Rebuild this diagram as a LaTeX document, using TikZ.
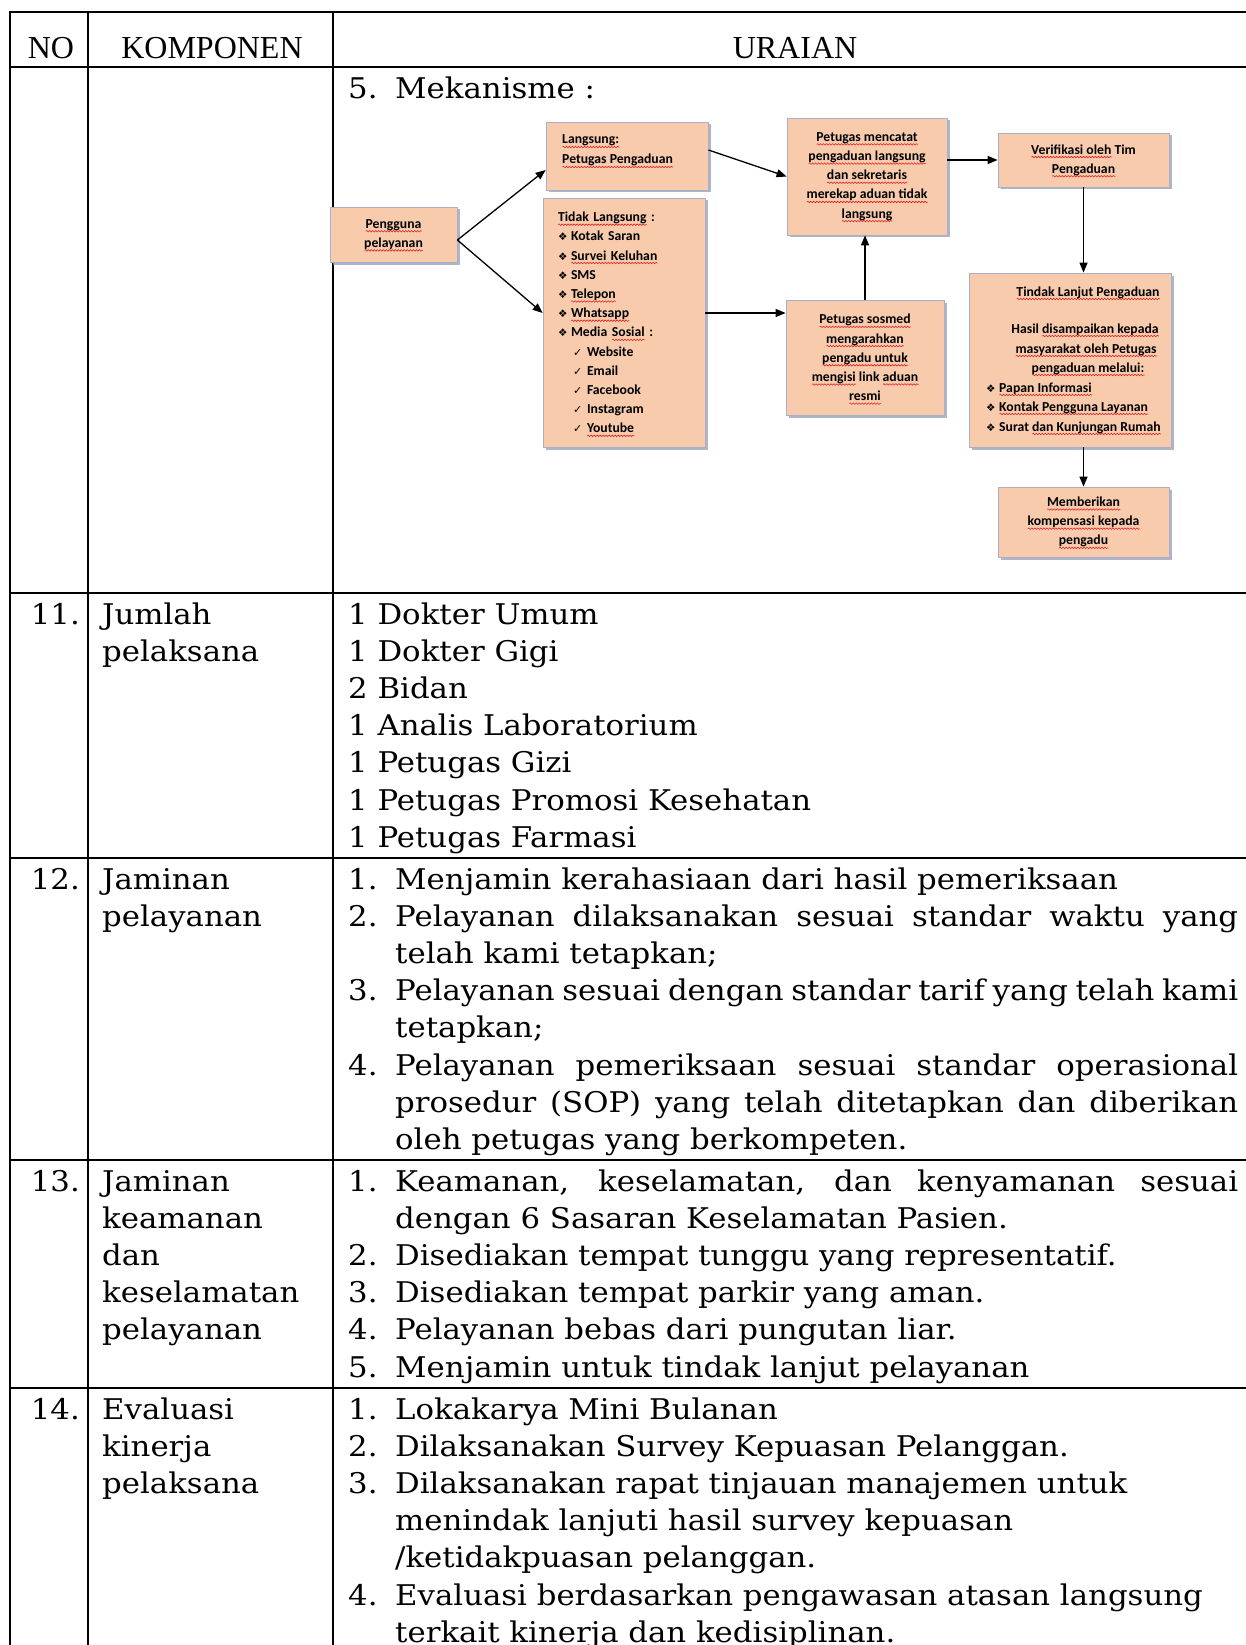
\documentclass[tikz,border=0pt]{standalone}
\usepackage{fontspec}
\usetikzlibrary{arrows.meta,shadows,decorations.pathmorphing}
\newfontfamily\bodyfont[FakeStretch=1.08]{DejaVu Serif}
\newfontfamily\headfont{Liberation Serif}
\newfontfamily\boxfont{Carlito}
\newfontfamily\symfont{DejaVu Sans}
\definecolor{peach}{RGB}{248,203,173}
\definecolor{boxline}{RGB}{168,175,198}
\definecolor{shadowc}{RGB}{140,150,178}
\definecolor{wavered}{RGB}{225,30,30}
\newsavebox\sqbox
\newlength\sqw
\newcommand\sq[1]{\sbox\sqbox{#1}\setlength\sqw{\wd\sqbox}\rlap{\smash{\tikz[x=1pt,y=1pt,baseline=0pt]\draw[wavered,line width=0.55pt,decorate,decoration={snake,amplitude=0.75pt,segment length=3pt}] (0pt,-3pt) -- (\sqw,-3pt);}}\usebox\sqbox}
\newcommand\bul[1]{\makebox[#1][l]{\symfont\fontsize{10.5}{10.5}\selectfont ❖}}
\newcommand\chk{\hspace*{15pt}\makebox[14pt][l]{\symfont\fontsize{11}{11}\selectfont ✓}}
\newcommand\J[1]{\makebox[843pt][s]{#1}}
\begin{document}
\begin{tikzpicture}[x=1pt,y=-1pt,
  grid/.style={line width=2.7pt},
  bt/.style={font=\bodyfont\fontsize{28.5}{37.2}\selectfont, inner sep=0pt, anchor=base west},
  nt/.style={bt, anchor=base east},
  ht/.style={font=\headfont\fontsize{32}{38}\selectfont, inner sep=0pt, anchor=base},
  fbox/.style={rectangle, fill=peach, draw=boxline, line width=0.8pt, inner sep=0pt,
    drop shadow={shadow xshift=2.5pt, shadow yshift=-2.5pt, fill=shadowc, opacity=0.7},
    font=\boxfont\bfseries\fontsize{13.7}{19.2}\selectfont, align=center},
  bx/.style={font=\boxfont\bfseries\fontsize{13.7}{19.2}\selectfont, inner sep=0pt},
  arr/.style={-{Triangle[length=10pt,width=8pt]}, line width=1.3pt}]
\useasboundingbox (0,0) rectangle (1246,1645);
\fill[white] (0,0) rectangle (1246,1645);

% table grid
\draw[grid] (8.65,12) -- (1250,12);
\foreach \yy in {67,593,858,1160,1388} \draw[grid] (10,\yy) -- (1250,\yy);
\foreach \xx in {10,88,333} \draw[grid] (\xx,12) -- (\xx,1650);

% header
\node[ht] (hno) at (51,59) {NO};
\node[ht] (hkomp) at (212,59) {KOMPONEN};
\node[ht] (hur) at (795,59) {URAIAN};

% row 10
\node[bt] (m5n) at (348,99) {5.};
\node[bt] (m5t) at (395,99) {Mekanisme :};

% flowchart boxes
\node[fbox, minimum width=127pt, minimum height=55pt] (peng) at (393.5,234.5) {\sq{Pengguna}\\\sq{pelayanan}};
\node[fbox, minimum width=162pt, minimum height=68pt] (lang) at (627,156) {};
\node[bx, anchor=base west] (lang1) at (562,144) {\sq{Langsung:}};
\node[bx, anchor=base west] (lang2) at (562,164) {\sq{Petugas Pengaduan}};
\node[fbox, minimum width=162pt, minimum height=249pt, text width=132pt, inner xsep=15pt, align=left] (tidak) at (624,322.5)
  {\sq{Tidak Langsung} :\\\bul{13pt}Kotak Saran\\\bul{13pt}\sq{Survei Keluhan}\\\bul{13pt}SMS\\\bul{13pt}\sq{Telepon}\\\bul{13pt}\sq{Whatsapp}\\\bul{13pt}Media \sq{Sosial} :\\\chk Website\\\chk Email\\\chk Facebook\\\chk Instagram\\\chk \sq{Youtube}};
\node[fbox, minimum width=160pt, minimum height=117pt] (menc) at (867,176.5)
  {\sq{Petugas mencatat}\\\sq{pengaduan langsung}\\\sq{dan sekretaris}\\\sq{merekap aduan tidak}\\\sq{langsung}};
\node[fbox, minimum width=171pt, minimum height=54pt] (verif) at (1083.5,160) {\sq{Verifikasi oleh} Tim\\\sq{Pengaduan}};
\node[fbox, minimum width=158pt, minimum height=115pt] (sosmed) at (865,357.5)
  {\sq{Petugas sosmed}\\\sq{mengarahkan}\\\sq{pengadu untuk}\\\sq{mengisi} link \sq{aduan}\\\sq{resmi}};
\node[fbox, minimum width=202pt, minimum height=174pt] (tindak) at (1070,360) {};
\node[bx, anchor=base] (tl1) at (1088,296) {\sq{Tindak Lanjut Pengaduan}};
\node[bx, anchor=base] (tl2) at (1085,333) {Hasil \sq{disampaikan kepada}};
\node[bx, anchor=base] (tl3) at (1086,353) {\sq{masyarakat oleh Petugas}};
\node[bx, anchor=base] (tl4) at (1088,372) {\sq{pengaduan melalui:}};
\node[bx, anchor=base west] (tl5) at (986,392) {\bul{13pt}\sq{Papan Informasi}};
\node[bx, anchor=base west] (tl6) at (986,411) {\bul{13pt}\sq{Kontak Pengguna Layanan}};
\node[bx, anchor=base west] (tl7) at (986,431) {\bul{13pt}Surat \sq{dan Kunjungan Rumah}};
\node[fbox, minimum width=171pt, minimum height=70pt] (memb) at (1083.5,522) {\sq{Memberikan}\\\sq{kompensasi kepada}\\\sq{pengadu}};

% connectors
\draw[arr] ([yshift=-5.5pt]peng.east) -- ([yshift=-14pt]lang.west);
\draw[arr] ([yshift=-5.5pt]peng.east) -- ([yshift=9.5pt]tidak.west);
\draw[arr] ([yshift=6pt]lang.east) -- (menc.west);
\draw[arr] (menc.east |- verif.west) -- (verif.west);
\draw[arr] (verif.south) -- (verif.south |- tindak.north);
\draw[arr] (memb.north |- tindak.south) -- (memb.north);
\draw[arr] ([yshift=9.5pt]tidak.east) -- ([yshift=9.5pt]tidak.east -| sosmed.west);
\draw[arr] (sosmed.north) -- (sosmed.north |- menc.south);

% row 11
\node[nt] (n11) at (80,624) {11.};
\node[bt] (k11a) at (102,624) {Jumlah};
\node[bt] (k11b) at (102,661.2) {pelaksana};
\node[bt] (u11a) at (348,624) {1 Dokter Umum};
\node[bt] (u11b) at (348,661.2) {1 Dokter Gigi};
\node[bt] (u11c) at (348,698.4) {2 Bidan};
\node[bt] (u11d) at (348,735.6) {1 Analis Laboratorium};
\node[bt] (u11e) at (348,772.8) {1 Petugas Gizi};
\node[bt] (u11f) at (348,810) {1 Petugas Promosi Kesehatan};
\node[bt] (u11g) at (348,847.2) {1 Petugas Farmasi};

% row 12
\node[nt] (n12) at (80,889) {12.};
\node[bt] (k12a) at (102,889) {Jaminan};
\node[bt] (k12b) at (102,926.2) {pelayanan};
\node[bt] (u12n1) at (348,889) {1.};
\node[bt] (u12a) at (395,889) {Menjamin kerahasiaan dari hasil pemeriksaan};
\node[bt] (u12n2) at (348,926.2) {2.};
\node[bt] (u12b) at (395,926.2) {\J{Pelayanan dilaksanakan sesuai standar waktu yang}};
\node[bt] (u12c) at (395,963.4) {telah kami tetapkan;};
\node[bt] (u12n3) at (348,1000.6) {3.};
\node[bt] (u12d) at (395,1000.6) {\J{Pelayanan sesuai dengan standar tarif yang telah kami}};
\node[bt] (u12e) at (395,1037.8) {tetapkan;};
\node[bt] (u12n4) at (348,1075) {4.};
\node[bt] (u12f) at (395,1075) {\J{Pelayanan pemeriksaan sesuai standar operasional}};
\node[bt] (u12g) at (395,1112.2) {\J{prosedur (SOP) yang telah ditetapkan dan diberikan}};
\node[bt] (u12h) at (395,1149.4) {oleh petugas yang berkompeten.};

% row 13
\node[nt] (n13) at (80,1191) {13.};
\node[bt] (k13a) at (102,1191) {Jaminan};
\node[bt] (k13b) at (102,1228.2) {keamanan};
\node[bt] (k13c) at (102,1265.4) {dan};
\node[bt] (k13d) at (102,1302.6) {keselamatan};
\node[bt] (k13e) at (102,1339.8) {pelayanan};
\node[bt] (u13n1) at (348,1191) {1.};
\node[bt] (u13a) at (395,1191) {\J{Keamanan, keselamatan, dan kenyamanan sesuai}};
\node[bt] (u13b) at (395,1228.2) {dengan 6 Sasaran Keselamatan Pasien.};
\node[bt] (u13n2) at (348,1265.4) {2.};
\node[bt] (u13c) at (395,1265.4) {Disediakan tempat tunggu yang representatif.};
\node[bt] (u13n3) at (348,1302.6) {3.};
\node[bt] (u13d) at (395,1302.6) {Disediakan tempat parkir yang aman.};
\node[bt] (u13n4) at (348,1339.8) {4.};
\node[bt] (u13e) at (395,1339.8) {Pelayanan bebas dari pungutan liar.};
\node[bt] (u13n5) at (348,1377) {5.};
\node[bt] (u13f) at (395,1377) {Menjamin untuk tindak lanjut pelayanan};

% row 14
\node[nt] (n14) at (80,1419) {14.};
\node[bt] (k14a) at (102,1419) {Evaluasi};
\node[bt] (k14b) at (102,1456.2) {kinerja};
\node[bt] (k14c) at (102,1493.4) {pelaksana};
\node[bt] (u14n1) at (348,1419) {1.};
\node[bt] (u14a) at (395,1419) {Lokakarya Mini Bulanan};
\node[bt] (u14n2) at (348,1456.2) {2.};
\node[bt] (u14b) at (395,1456.2) {Dilaksanakan Survey Kepuasan Pelanggan.};
\node[bt] (u14n3) at (348,1493.4) {3.};
\node[bt] (u14c) at (395,1493.4) {Dilaksanakan rapat tinjauan manajemen untuk};
\node[bt] (u14d) at (395,1530.6) {menindak lanjuti hasil survey kepuasan};
\node[bt] (u14e) at (395,1567.8) {/ketidakpuasan pelanggan.};
\node[bt] (u14n4) at (348,1605) {4.};
\node[bt] (u14f) at (395,1605) {Evaluasi berdasarkan pengawasan atasan langsung};
\node[bt] (u14g) at (395,1642.2) {terkait kinerja dan kedisiplinan.};
\end{tikzpicture}
\end{document}
